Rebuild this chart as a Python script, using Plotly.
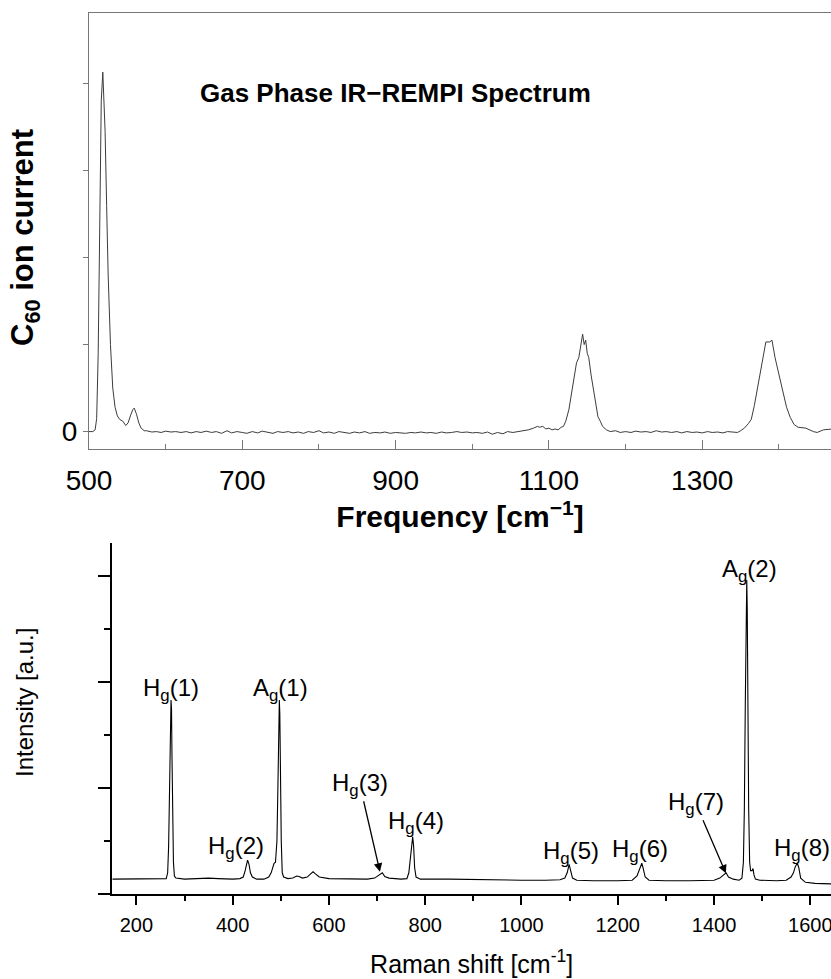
import plotly.graph_objects as go

# ---------------- Top panel: gas phase IR-REMPI spectrum ----------------
top_x = [500, 505, 508, 510, 512, 514, 516, 518, 519, 520, 521, 523, 525, 528, 531, 534, 537, 540,
         544, 548, 551, 554, 557, 559, 562, 565, 568, 572,
         575, 582, 588, 594, 600, 607, 613, 620, 627, 633, 640, 646, 653, 660, 666, 673, 680, 686,
         693, 700, 706, 713, 720, 726, 733, 740, 746, 753, 760, 766, 773, 780, 786, 793, 800, 806,
         813, 820, 826, 833, 840, 846, 853, 860, 866, 873, 880, 886, 893, 900, 906, 913, 920, 926,
         933, 940, 946, 953, 960, 966, 973, 980, 986, 993, 1000, 1006, 1013, 1020, 1026, 1033, 1040,
         1046, 1053, 1060, 1066, 1073, 1080, 1085, 1088, 1092, 1096, 1100, 1104, 1108, 1112, 1116,
         1119, 1122, 1126, 1130, 1133, 1136, 1139, 1141, 1143, 1144, 1146, 1148, 1150, 1152, 1155,
         1158, 1161, 1164, 1167, 1170, 1175, 1180, 1187, 1193, 1200, 1207, 1213, 1220, 1227, 1233,
         1240, 1247, 1253, 1260, 1267, 1273, 1280, 1287, 1293, 1300, 1307, 1313, 1320, 1327, 1333,
         1340, 1346, 1350, 1355, 1360, 1364, 1368, 1372, 1376, 1380, 1383, 1388, 1391, 1395, 1400,
         1405, 1410, 1415, 1420, 1425, 1435, 1445, 1450, 1458, 1465, 1470]
top_y = [0.0, 0.0, 0.02, 0.15, 0.9, 2.5, 3.8, 4.13, 3.95, 3.6, 3.45, 2.6, 1.8, 1.0, 0.5, 0.28, 0.18, 0.14,
         0.12, 0.07, 0.1, 0.18, 0.25, 0.27, 0.2, 0.1, 0.04, 0.01,
         0.01, -0.005, 0.0, -0.01, 0.005, -0.005, 0.0, -0.01, 0.0, -0.015, 0.0, -0.01, 0.005, -0.01,
         0.0, -0.02, 0.01, -0.015, 0.0, -0.01, -0.02, 0.0, -0.015, 0.005, -0.01, -0.02, 0.0, -0.01,
         0.0, -0.015, -0.005, -0.02, 0.0, -0.01, 0.01, -0.015, -0.005, -0.02, 0.0, -0.01, -0.02,
         -0.005, -0.015, 0.0, -0.02, -0.01, -0.015, -0.005, -0.02, -0.01, -0.015, -0.02, -0.01,
         -0.015, -0.005, -0.015, -0.01, -0.02, -0.005, -0.015, -0.01, 0.0, -0.01, -0.005, -0.015,
         -0.01, -0.02, -0.005, -0.03, -0.01, -0.025, 0.0, -0.01, 0.0, 0.01, 0.02, 0.04, 0.06, 0.05,
         0.06, 0.03, 0.04, 0.02, 0.03, 0.02, 0.05,
         0.06, 0.12, 0.25, 0.45, 0.62, 0.79, 0.85, 0.95, 1.05, 1.12, 1.0, 1.05, 0.9, 0.85, 0.65,
         0.5, 0.33, 0.17, 0.12, 0.06, 0.02, 0.0, 0.01, -0.01, 0.0, -0.01, 0.005, -0.005, 0.0, -0.01,
         0.01, -0.005, 0.0, -0.01, 0.0, -0.015, 0.0, -0.01, -0.005, -0.015, 0.0, -0.01, -0.005,
         -0.015, 0.0, -0.01, -0.01, 0.01, 0.04, 0.09, 0.14, 0.3, 0.5, 0.7, 0.9, 1.03, 1.03, 1.05,
         0.85, 0.65, 0.45, 0.28, 0.16, 0.08, 0.05, 0.04, 0.0, -0.01, 0.02, 0.03, 0.03]

top_xticks = [500, 700, 900, 1100, 1300]
top_ylabel_ticks = [0]          # only the zero tick carries a label
top_ytick_step = 1              # unlabelled ticks every unit

# ---------------- Bottom panel: Raman spectrum ----------------
raman_x = [150, 180, 200, 230, 250, 262, 265, 267, 269, 271, 272, 273, 274, 275, 277, 279, 282,
           300, 330, 350, 370, 400, 415, 422, 426, 429, 431, 434, 437, 441, 450, 465, 475, 480,
           484, 486, 489, 492, 494, 496, 497, 498, 499, 501, 503, 506, 515, 525, 533, 538, 545,
           555, 562, 567, 572, 580, 600, 650, 680, 695, 702, 707, 711, 716, 725, 750, 762, 766,
           769, 772, 774, 776, 778, 781, 790, 850, 900, 950, 1000, 1050, 1080, 1090, 1095, 1099,
           1102, 1106, 1115, 1150, 1200, 1230, 1240, 1246, 1250, 1253, 1257, 1265, 1300, 1350,
           1400, 1412, 1420, 1425, 1430, 1440, 1452, 1458, 1461, 1463, 1465, 1467, 1468, 1469,
           1470, 1472, 1474, 1476, 1479, 1481, 1483, 1486, 1495, 1510, 1530, 1550, 1560, 1565,
           1569, 1573, 1576, 1580, 1590, 1610, 1645]
raman_y = [0.14, 0.14, 0.14, 0.145, 0.14, 0.145, 0.2, 0.45, 1.0, 1.6, 1.83, 1.75, 1.3, 0.7, 0.3,
           0.17, 0.15, 0.14, 0.145, 0.15, 0.145, 0.14, 0.145, 0.16, 0.22, 0.3, 0.32, 0.28, 0.2,
           0.16, 0.14, 0.14, 0.16, 0.2, 0.28, 0.29, 0.3, 0.5, 1.0, 1.6, 1.83, 1.7, 1.2, 0.5, 0.2,
           0.16, 0.145, 0.15, 0.17, 0.165, 0.15, 0.16, 0.19, 0.21, 0.19, 0.16, 0.145, 0.14, 0.14,
           0.15, 0.17, 0.19, 0.2, 0.165, 0.15, 0.14, 0.145, 0.2, 0.35, 0.5, 0.54, 0.45, 0.25, 0.16,
           0.14, 0.14, 0.135, 0.13, 0.13, 0.13, 0.135, 0.15, 0.2, 0.28, 0.22, 0.15, 0.13, 0.125,
           0.125, 0.13, 0.17, 0.24, 0.29, 0.24, 0.16, 0.13, 0.125, 0.125, 0.13, 0.15, 0.18, 0.2,
           0.16, 0.14, 0.13, 0.15, 0.3, 0.8, 1.8, 2.8, 2.96, 2.7, 1.8, 0.8, 0.3, 0.22, 0.22, 0.24,
           0.18, 0.14, 0.13, 0.125, 0.125, 0.13, 0.16, 0.2, 0.26, 0.29, 0.25, 0.15, 0.11, 0.1, 0.095]

raman_xticks = [200, 400, 600, 800, 1000, 1200, 1400, 1600]

# peak labels: text, label centre (x, y), in data units
peak_labels = ["H<sub>g</sub>(1)", "A<sub>g</sub>(1)", "H<sub>g</sub>(2)", "H<sub>g</sub>(3)",
               "H<sub>g</sub>(4)", "H<sub>g</sub>(5)", "H<sub>g</sub>(6)", "H<sub>g</sub>(7)",
               "A<sub>g</sub>(2)", "H<sub>g</sub>(8)"]
label_x = [272, 499, 406, 664, 781, 1102, 1247, 1362, 1474, 1583]
label_y = [1.93, 1.93, 0.44, 1.035, 0.677, 0.394, 0.413, 0.856, 3.05, 0.422]
# arrow heads for labels that point at weak bands (None = no arrow)
arrow_head_x = [None, None, None, 706, None, None, None, 1424.6, None, None]
arrow_head_y = [None, None, None, 0.21, None, None, None, 0.195, None, None]

FONT = "Arial, Liberation Sans, Helvetica, sans-serif"
GRAY = "#777777"

fig = go.Figure()
fig.add_trace(go.Scatter(x=top_x, y=top_y, mode="lines",
                         line=dict(color="#3c3c3c", width=1), xaxis="x", yaxis="y",
                         hoverinfo="skip"))
fig.add_trace(go.Scatter(x=raman_x, y=raman_y, mode="lines",
                         line=dict(color="#000000", width=1.1), xaxis="x2", yaxis="y2",
                         hoverinfo="skip"))

W, H = 831, 979
fig.update_layout(
    width=W, height=H,
    margin=dict(l=0, r=0, t=0, b=0, autoexpand=False),
    paper_bgcolor="white", plot_bgcolor="white",
    showlegend=False,
    font=dict(family=FONT, color="black"),
    xaxis=dict(
        domain=[89 / W, 1.0], range=[500, 1468], anchor="y", automargin=False,
        tickvals=top_xticks, ticks="inside", ticklen=9, tickwidth=1, tickcolor=GRAY,
        minor=dict(dtick=100, ticks="inside", ticklen=5, tickwidth=1, tickcolor=GRAY),
        showline=True, linecolor=GRAY, linewidth=1, mirror=True,
        showgrid=False, zeroline=False,
        tickfont=dict(size=28, family=FONT, color="black"),
        ticklabelstandoff=6, ticklabeloverflow="allow",
        title=dict(text="<b>Frequency [cm<sup>−1</sup>]</b>",
                   font=dict(size=30, family=FONT, color="black"), standoff=6),
    ),
    yaxis=dict(
        domain=[(H - 449) / H, (H - 13) / H], range=[-0.2, 4.81], anchor="x", automargin=False,
        tickvals=top_ylabel_ticks, ticks="outside", ticklen=5,
        tickwidth=1, tickcolor=GRAY,
        minor=dict(tick0=0, dtick=top_ytick_step, ticks="outside", ticklen=5, tickwidth=1,
                   tickcolor=GRAY),
        showline=True, linecolor=GRAY, linewidth=1,
        showgrid=False, zeroline=False,
        tickfont=dict(size=28, family=FONT, color="black"),
    ),
    xaxis2=dict(
        domain=[112.3 / W, 1.0], range=[150, 1643], anchor="y2", automargin=False,
        tickvals=raman_xticks, ticks="outside", ticklen=9, tickwidth=2, tickcolor="black",
        minor=dict(dtick=100, ticks="outside", ticklen=5, tickwidth=2, tickcolor="black"),
        showline=True, linecolor="black", linewidth=2,
        showgrid=False, zeroline=False,
        tickfont=dict(size=20, family=FONT, color="black"),
        ticklabelstandoff=3, ticklabeloverflow="allow",
        title=dict(text="Raman shift [cm<sup>-1</sup>]",
                   font=dict(size=25, family=FONT, color="black"), standoff=20),
    ),
    yaxis2=dict(
        domain=[(H - 894) / H, (H - 543) / H], range=[0, 3.31], anchor="x2", automargin=False,
        tickvals=[0, 1, 2, 3], showticklabels=False, ticks="outside", ticklen=12,
        tickwidth=2, tickcolor="black",
        minor=dict(dtick=0.5, ticks="outside", ticklen=6, tickwidth=2, tickcolor="black"),
        showline=True, linecolor="black", linewidth=2,
        showgrid=False, zeroline=False,
    ),
)

annotations = []
# chart title inside top panel
annotations.append(dict(text="<b>Gas Phase IR−REMPI Spectrum</b>", xref="paper", yref="paper",
                        x=395.5 / W, y=1 - 93 / H, xanchor="center", yanchor="middle",
                        showarrow=False, font=dict(size=26, family=FONT, color="black")))
# y-axis titles
annotations.append(dict(text="<b>C<sub>60</sub> ion current</b>", xref="paper", yref="paper",
                        x=25 / W, y=1 - 238 / H, xanchor="center", yanchor="middle",
                        textangle=-90, showarrow=False,
                        font=dict(size=31, family=FONT, color="black")))
annotations.append(dict(text="Intensity [a.u.]", xref="paper", yref="paper",
                        x=24 / W, y=1 - 703 / H, xanchor="center", yanchor="middle",
                        textangle=-90, showarrow=False,
                        font=dict(size=24, family=FONT, color="black")))
for t, lx, ly, hx, hy in zip(peak_labels, label_x, label_y, arrow_head_x, arrow_head_y):
    if hx is None:
        annotations.append(dict(text=t, xref="x2", yref="y2", x=lx, y=ly,
                                xanchor="center", yanchor="middle", showarrow=False,
                                font=dict(size=24, family=FONT, color="black")))
    else:
        annotations.append(dict(text=t, xref="x2", yref="y2", x=hx, y=hy,
                                axref="x2", ayref="y2", ax=lx, ay=ly,
                                xanchor="center", yanchor="middle",
                                showarrow=True, arrowhead=2, arrowsize=1.3, arrowwidth=1.3,
                                arrowcolor="black", standoff=0,
                                font=dict(size=24, family=FONT, color="black")))
fig.update_layout(annotations=annotations)

fig.write_html("out.html")
